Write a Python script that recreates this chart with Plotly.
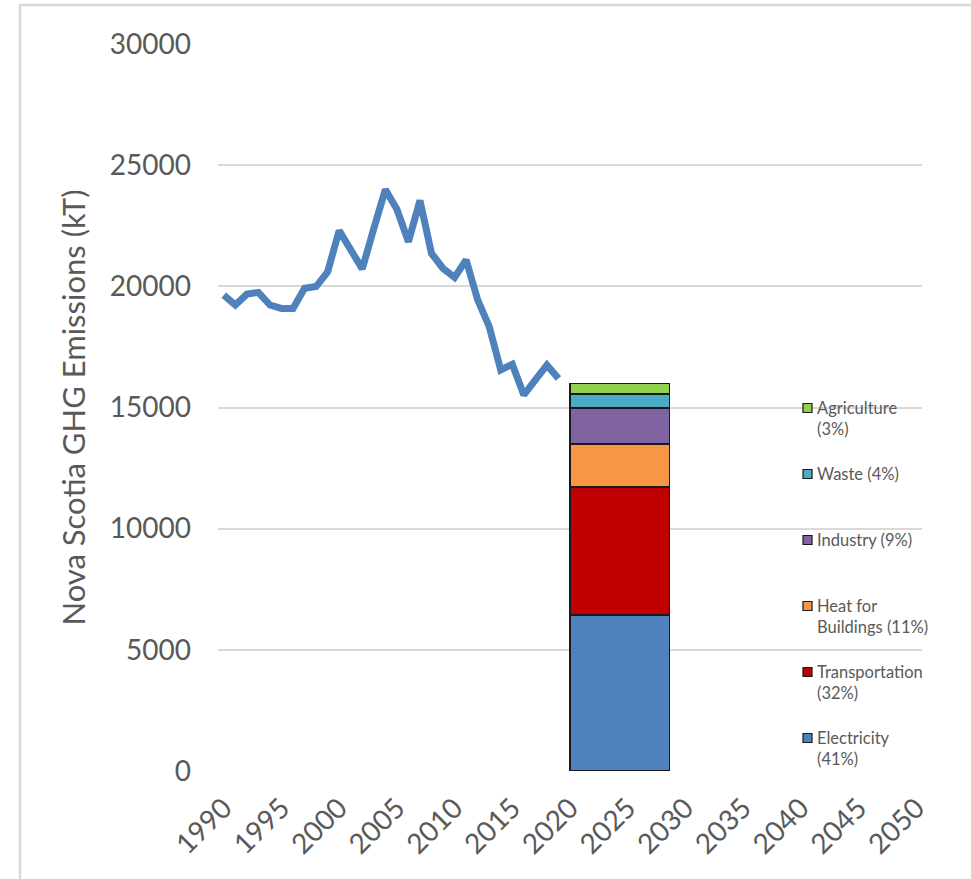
import plotly.graph_objects as go

# ---- data ----
years = list(range(1990, 2020))
emissions = [19640, 19230, 19680, 19750, 19230, 19090, 19090, 19920, 19990, 20600,
             22300, 21500, 20720, 22390, 24000, 23180, 21840, 23540, 21360, 20740,
             20370, 21090, 19440, 18340, 16550, 16780, 15520, 16140, 16750, 16200]

sectors = ["Electricity", "Transportation", "Heat for Buildings", "Industry", "Waste", "Agriculture"]
sector_values = [6440, 5270, 1790, 1470, 580, 450]
sector_pct = [41, 32, 11, 9, 4, 3]
legend_labels = ["Electricity<br>(41%)", "Transportation<br>(32%)", "Heat for<br>Buildings (11%)",
                 "Industry (9%)", "Waste (4%)", "Agriculture<br>(3%)"]
bar_year = 2020
tick_years = list(range(1990, 2051, 5))

colors = ["#4F81BD", "#C00000", "#F79646", "#8064A2", "#4BACC6", "#92D050"]

FONT = "Lato"
GRAY = "#595959"

W, H = 971, 879
ML, MR, MT, MB = 218, 49, 44, 108
PW, PH = W - ML - MR, H - MT - MB

fig = go.Figure()

fig.add_trace(go.Scatter(x=years, y=emissions, mode="lines",
                         line=dict(color="#4F81BD", width=7),
                         showlegend=False, hoverinfo="x+y"))

for name, val, col in zip(sectors, sector_values, colors):
    fig.add_trace(go.Bar(x=[bar_year], y=[val], name=name, width=8.6, offset=0,
                         marker=dict(color=col, line=dict(color="#1a1a1a", width=1.5)),
                         showlegend=False))

def px_to_paper_x(px):
    return (px - ML) / PW

def px_to_paper_y(py):
    return (H - MB - py) / PH

# custom legend (top entry = last sector)
shapes = []
annotations = []
first_center = 408
step = 66
for i, idx in enumerate(reversed(range(len(sectors)))):
    cy = first_center + i * step
    shapes.append(dict(type="rect", xref="paper", yref="paper",
                       x0=px_to_paper_x(803), x1=px_to_paper_x(812),
                       y0=px_to_paper_y(cy + 4.5), y1=px_to_paper_y(cy - 4.5),
                       fillcolor=colors[idx], line=dict(color="#1a1a1a", width=1.2)))
    annotations.append(dict(xref="paper", yref="paper",
                            x=px_to_paper_x(815), y=px_to_paper_y(cy - 12),
                            xanchor="left", yanchor="top", align="left",
                            text=legend_labels[idx], showarrow=False,
                            font=dict(family=FONT, size=16.5, color=GRAY)))

# outer frame (partially visible in reference)
shapes.append(dict(type="path", xref="paper", yref="paper",
                   path=f"M {px_to_paper_x(20)},{px_to_paper_y(H)} L {px_to_paper_x(20)},{px_to_paper_y(5)} L {px_to_paper_x(W)},{px_to_paper_y(5)}",
                   line=dict(color="#d9d9d9", width=2.5), layer="below"))

fig.update_layout(
    width=W, height=H,
    margin=dict(l=ML, r=MR, t=MT, b=MB),
    paper_bgcolor="white", plot_bgcolor="white",
    barmode="stack",
    shapes=shapes, annotations=annotations,
    font=dict(family=FONT, color=GRAY),
    xaxis=dict(range=[1989.5, 2050.5], tickmode="array", tickvals=tick_years,
               ticktext=[str(y) for y in tick_years], tickangle=-45,
               tickfont=dict(family=FONT, size=28, color=GRAY),
               showgrid=False, zeroline=False, showline=False, ticks="",
               ticklabelstandoff=14),
    yaxis=dict(range=[0, 30000], dtick=5000, tickformat="d",
               showgrid=True, gridcolor="#d9d9d9",
               gridwidth=2, zeroline=False, showline=False, ticks="",
               tickfont=dict(family=FONT, size=28, color=GRAY),
               ticklabelstandoff=26,
               title=dict(text="Nova Scotia GHG Emissions (kT)",
                          font=dict(family=FONT, size=31, color=GRAY), standoff=14)),
)

fig.write_html("out.html")
